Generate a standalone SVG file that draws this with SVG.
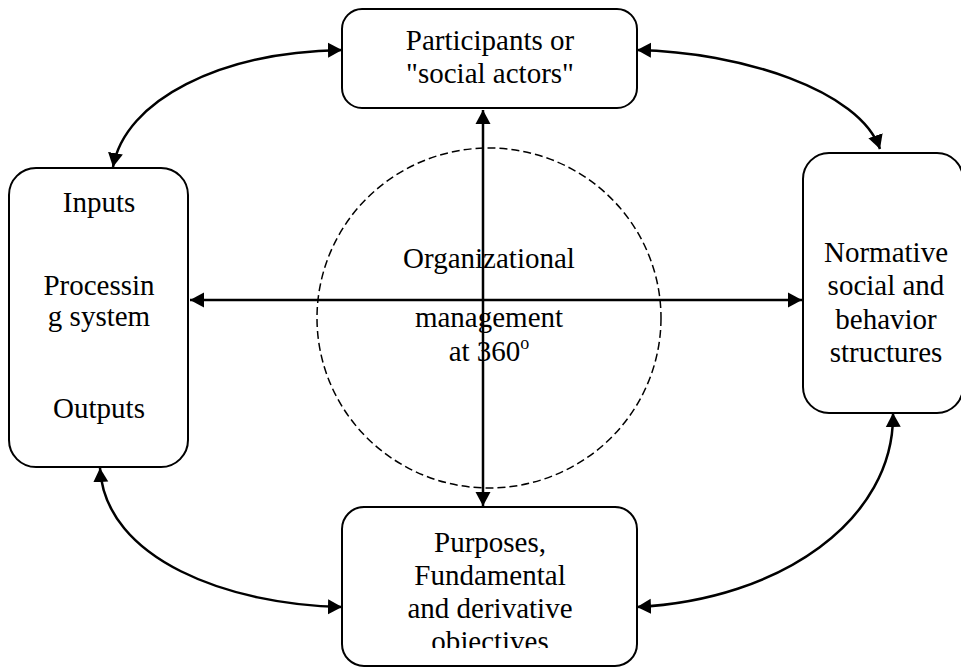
<svg xmlns="http://www.w3.org/2000/svg" width="961" height="669" viewBox="0 0 961 669">
  <style>
    .box { fill: #fff; stroke: #000; stroke-width: 2; }
    .t { font-size: 29px; fill: #000; text-anchor: middle; }
    .conn { fill: none; stroke: #000; stroke-width: 2.5; }
    .circ { fill: none; stroke: #000; stroke-width: 1.5; stroke-dasharray: 8 4; }
  </style>
  <defs>
    <marker id="ah" markerUnits="userSpaceOnUse" markerWidth="15" markerHeight="16" refX="14" refY="7.5" orient="auto-start-reverse" viewBox="0 0 15 15">
      <path d="M0,0 L14,7.5 L0,15 z" fill="#000"/>
    </marker>
    <clipPath id="clipBottom">
      <rect x="342" y="508" width="296" height="140"/>
    </clipPath>
  </defs>
  <rect width="961" height="669" fill="#fff"/>

  <g id="circle">
    <ellipse class="circ" cx="489" cy="318" rx="172" ry="170"/>
  </g>

  <g font-family="Liberation Serif, DejaVu Serif, serif">
  <g id="node-top">
    <rect class="box" x="342" y="9" width="295" height="99" rx="20" ry="20"/>
    <text class="t" x="490" y="50">Participants or</text>
    <text class="t" x="490" y="83">"social actors"</text>
  </g>

  <g id="node-left">
    <rect class="box" x="9" y="168" width="179" height="299" rx="27" ry="27"/>
    <text class="t" x="99" y="212">Inputs</text>
    <text class="t" x="99" y="295">Processin</text>
    <text class="t" x="99" y="326">g system</text>
    <text class="t" x="99" y="418">Outputs</text>
  </g>

  <g id="node-right">
    <rect class="box" x="803" y="153" width="160" height="260" rx="26" ry="26"/>
    <text class="t" x="886" y="262">Normative</text>
    <text class="t" x="886" y="295">social and</text>
    <text class="t" x="886" y="329">behavior</text>
    <text class="t" x="886" y="362">structures</text>
  </g>

  <g id="node-bottom">
    <rect class="box" x="342" y="507" width="295" height="159" rx="22" ry="22"/>
    <g clip-path="url(#clipBottom)">
      <text class="t" x="490" y="552">Purposes,</text>
      <text class="t" x="490" y="585">Fundamental</text>
      <text class="t" x="490" y="618">and derivative</text>
      <text class="t" x="490" y="651">objectives</text>
    </g>
  </g>

  <g id="node-center">
    <text class="t" x="489" y="268">Organizational</text>
    <text class="t" x="489" y="327">management</text>
    <text class="t" x="489" y="361">at 360<tspan font-size="18" dy="-12">o</tspan></text>
  </g>
  </g>

  <g id="connectors">
    <path class="conn" d="M483,506 L483,110" marker-start="url(#ah)" marker-end="url(#ah)"/>
    <path class="conn" d="M190,300 L802,300" marker-start="url(#ah)" marker-end="url(#ah)"/>
    <path class="conn" d="M113,167 C125,100 220,52 342,50" marker-start="url(#ah)" marker-end="url(#ah)"/>
    <path class="conn" d="M637,50 C740,52 860,90 880,149" marker-start="url(#ah)" marker-end="url(#ah)"/>
    <path class="conn" d="M100,468 C105,560 230,605 342,607" marker-start="url(#ah)" marker-end="url(#ah)"/>
    <path class="conn" d="M637,607 C780,600 895,520 893,413" marker-start="url(#ah)" marker-end="url(#ah)"/>
  </g>
</svg>
